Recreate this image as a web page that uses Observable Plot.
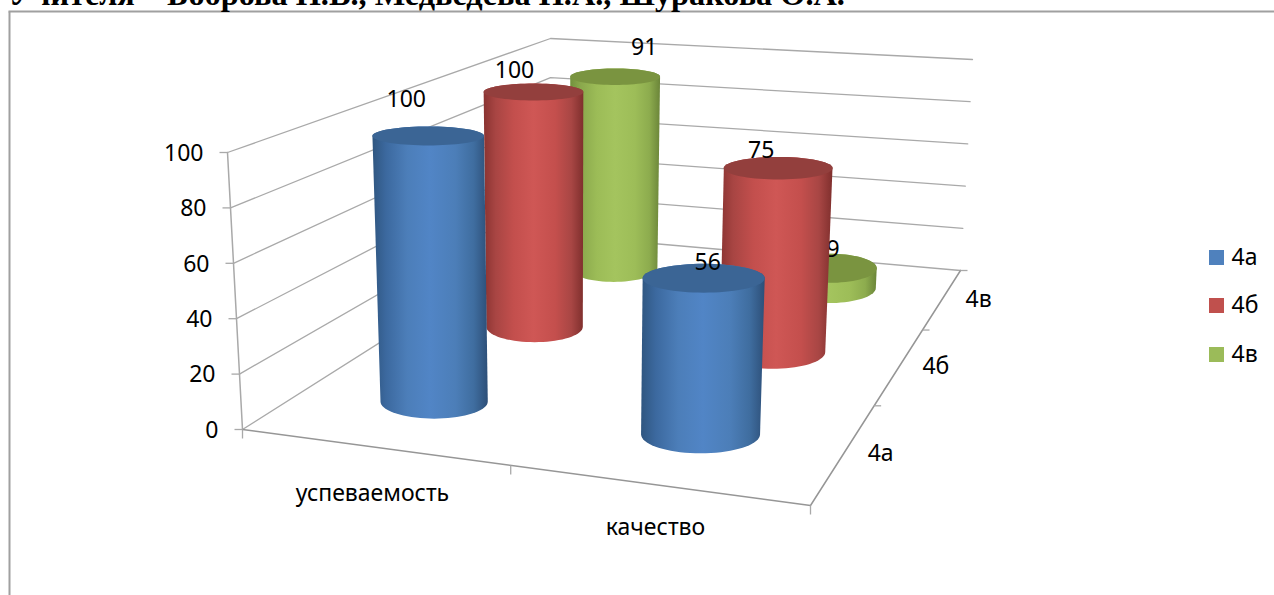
<!DOCTYPE html>
<html>
<head>
<meta charset="utf-8">
<script src="https://cdn.jsdelivr.net/npm/d3@7"></script>
<script src="https://cdn.jsdelivr.net/npm/@observablehq/plot@0.6"></script>
<style>
html,body{margin:0;padding:0;background:#fff;overflow:hidden}
svg{display:block}
</style>
</head>
<body>
<div id="chart"></div>
<script>
// ---- data ----
const categories = ["успеваемость", "качество"];
const seriesNames = ["4а", "4б", "4в"];
const values4a = [100, 56];
const values4b = [100, 75];
const values4v = [91, 9];
const valueTicks = [0, 20, 40, 60, 80, 100];
const titleText = "Учителя – Боброва Н.В., Медведева Н.А., Шуракова О.А.";

// ---- layout / style ----
const W = 1274, H = 595;
const FONT = "'Noto Sans', sans-serif";
const FS = 23;
const colors = ["#4f81bd", "#c0504d", "#9bbb59"];
const capColors = ["#3b6595", "#933f3d", "#7a9440"];
const gradStops = [
  [["0","#2f5680"],["0.12","#3c699f"],["0.3","#4c7eb9"],["0.5","#5185c6"],["0.72","#4c7eb8"],["0.88","#3f6d9f"],["1","#2d4f78"]],
  [["0","#8a3331"],["0.12","#a84543"],["0.3","#c34f4d"],["0.5","#cf5755"],["0.72","#c44f4d"],["0.88","#a84644"],["1","#7f2f2d"]],
  [["0","#72903c"],["0.12","#8aa84c"],["0.3","#9cbc57"],["0.5","#a4c45e"],["0.72","#9dbd58"],["0.88","#8dac4e"],["1","#6b8539"]]
];
// screen corners of the floor and of the v=100 plane: [u,d] = (0,0),(1,0),(1,1),(0,1)
const floorQuad = [[242,429],[810,505],[960,270],[550,234]];
const topQuad   = [[227,152],[822,198],[972,59],[550,38]];
const uCenters = [0.25, 0.75];
const dCenters = [1/6, 3/6, 5/6];
const rU = 0.106;                 // cylinder radius along the category axis
const flatBottom = 0.32, flatTop = 0.17; // ellipse minor/major at v=0 and v=100
// value label offsets from top centre, by [series][category]
const labelOffsets = [[[-22,-36],[4,-16]],[[-19,-21],[-17,-18]],[[29,-29],[4,-19]]];

function quadMap(q){
  const [[x0,y0],[x1,y1],[x2,y2],[x3,y3]] = q;
  const sx=x0-x1+x2-x3, sy=y0-y1+y2-y3, dx1=x1-x2, dx2=x3-x2, dy1=y1-y2, dy2=y3-y2;
  const den=dx1*dy2-dx2*dy1;
  const g=(sx*dy2-dx2*sy)/den, h=(dx1*sy-sx*dy1)/den;
  const a=x1-x0+g*x1, b=x3-x0+h*x3, c=x0, d=y1-y0+g*y1, e=y3-y0+h*y3, f=y0;
  return (u,v)=>{const w=g*u+h*v+1;return [(a*u+b*v+c)/w,(d*u+e*v+f)/w];};
}
const floorH = quadMap(floorQuad), topH = quadMap(topQuad);
function project(u,d,v){
  const a=floorH(u,d), b=topH(u,d), t=v/100;
  return [a[0]+(b[0]-a[0])*t, a[1]+(b[1]-a[1])*t];
}
function ellipse(u,d,v){
  const c=project(u,d,v);
  const A=(project(u+rU,d,v)[0]-project(u-rU,d,v)[0])/2;
  const B=A*(flatBottom+(flatTop-flatBottom)*v/100);
  return d3.range(72).map(i=>{
    const t=i/72*2*Math.PI;
    return [c[0]+A*Math.cos(t), c[1]+B*Math.sin(t)];
  });
}
const X=p=>p[0], Y=p=>p[1];
const lineMark=(pts,o)=>Plot.line(pts,{x:X,y:Y,...o});

const allValues=[values4a,values4b,values4v];
const marks=[];

// outer frame
marks.push(Plot.link([0],{x1:()=>9,y1:()=>11,x2:()=>9,y2:()=>595,stroke:"#a0a0a0",strokeWidth:2}));
marks.push(Plot.link([0],{x1:()=>8,y1:()=>11,x2:()=>1274,y2:()=>11,stroke:"#a0a0a0",strokeWidth:2}));
// title
marks.push(Plot.text([titleText],{x:()=>8,y:()=>4.5,text:d=>d,textAnchor:"start",lineAnchor:"bottom",
  fontFamily:"'Liberation Serif',serif",fontWeight:"bold",fontSize:32.3,fill:"#000"}));

// walls gridlines
const grid="#a9a9a9";
for(const v of valueTicks){
  marks.push(lineMark([project(0,0,v),project(0,1,v),project(1,1,v)],{stroke:grid,strokeWidth:1.3}));
}
// axes
marks.push(lineMark([project(0,0,0),project(0,0,100)],{stroke:grid,strokeWidth:1.5}));
marks.push(lineMark([project(0,0,0),project(1,0,0),project(1,1,0)],{stroke:"#969696",strokeWidth:1.5}));
// ticks
const tickRows=[
  ...valueTicks.map(v=>{const p=project(0,0,v);return [p,[p[0]-8,p[1]]];}),
  ...[0,0.5,1].map(u=>{const p=project(u,0,0);return [p,[p[0],p[1]+9]];}),
  ...[1/3,2/3,1].map(d=>{const p=project(1,d,0);return [p,[p[0]+7,p[1]]];})
];
marks.push(Plot.link(tickRows,{x1:r=>r[0][0],y1:r=>r[0][1],x2:r=>r[1][0],y2:r=>r[1][1],stroke:grid,strokeWidth:1.3}));
// axis labels
const txt={fontFamily:FONT,fontSize:FS,fill:"#000"};
marks.push(Plot.text(valueTicks,{x:v=>project(0,0,v)[0]-24,y:v=>project(0,0,v)[1]+1,text:v=>String(v),textAnchor:"end",...txt}));
marks.push(Plot.text(categories,{x:(c,i)=>[372,655][i],y:(c,i)=>[493,527][i],text:c=>c,...txt}));
marks.push(Plot.text(seriesNames,{x:(c,i)=>project(1,dCenters[i],0)[0]+36,y:(c,i)=>project(1,dCenters[i],0)[1]+[2,1,1][i],text:c=>c,...txt}));

// cylinders, back to front, each with its label
for(let s=2;s>=0;s--){
  for(let c=0;c<2;c++){
    const u=uCenters[c], d=dCenters[s], v=allValues[s][c];
    const bottom=ellipse(u,d,0), top=ellipse(u,d,v);
    const hull=d3.polygonHull([...bottom,...top]);
    marks.push(lineMark(hull,{fill:`url(#grad${s})`,stroke:"none"}));
    marks.push(lineMark(top,{fill:capColors[s],stroke:"none"}));
    const p=project(u,d,v), o=labelOffsets[s][c];
    marks.push(Plot.text([v],{x:()=>p[0]+o[0],y:()=>p[1]+o[1],text:t=>String(t),...txt}));
  }
}
// legend
const legendY=[257.5,305.5,354.5];
marks.push(Plot.rect(seriesNames,{x1:()=>1209,x2:()=>1224,y1:(n,i)=>legendY[i]-7.5,y2:(n,i)=>legendY[i]+7.5,fill:(n,i)=>colors[i]}));
marks.push(Plot.text(seriesNames,{x:()=>1231,y:(n,i)=>legendY[i],text:n=>n,textAnchor:"start",...txt}));

const chart=Plot.plot({
  width:W,height:H,margin:0,
  x:{type:"linear",domain:[0,W],range:[0,W],axis:null},
  y:{type:"linear",domain:[0,H],range:[0,H],axis:null},
  color:{type:"identity"},
  style:{background:"transparent",overflow:"hidden"},
  marks
});
const defs=d3.select(chart).insert("svg:defs",":first-child");
gradStops.forEach((stops,i)=>{
  const g=defs.append("linearGradient").attr("id","grad"+i).attr("x1",0).attr("x2",1).attr("y1",0).attr("y2",0);
  stops.forEach(([o,col])=>g.append("stop").attr("offset",o).attr("stop-color",col));
});
document.getElementById("chart").appendChild(chart);
</script>
</body>
</html>
